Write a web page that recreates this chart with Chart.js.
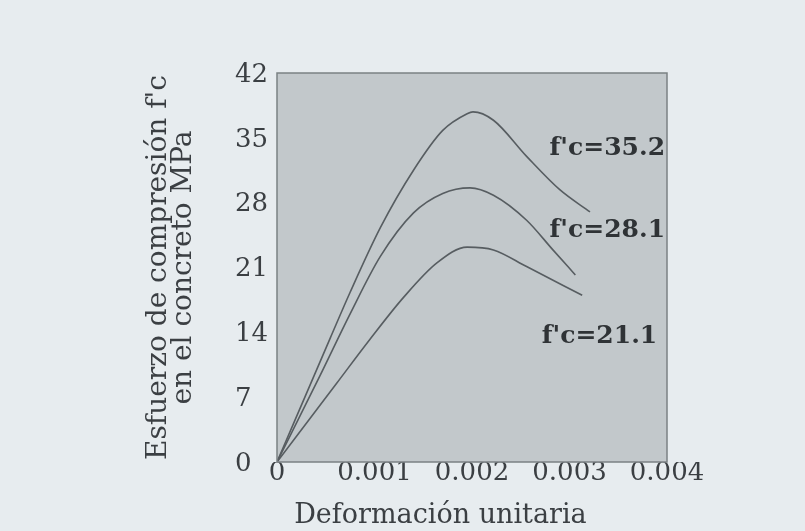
<!DOCTYPE html>
<html>
<head>
<meta charset="utf-8">
<script src="https://cdn.jsdelivr.net/npm/chart.js@4.4.1/dist/chart.umd.min.js"></script>
<style>
  html, body { margin: 0; padding: 0; background: #e7ecef; }
  #wrap { width: 805px; height: 531px; position: relative; }
</style>
</head>
<body>
<div id="wrap"><canvas id="c" width="805" height="531"></canvas></div>
<script>
// ---- data ----
const strain352 = [0, 0.000547, 0.000749, 0.00106, 0.0014, 0.0017, 0.00195, 0.00201, 0.00222, 0.00256, 0.0029, 0.00321];
const stress352 = [0, 13.4, 18.3, 25.3, 31.5, 35.8, 37.6, 37.8, 36.9, 33.0, 29.4, 27.0];

const strain281 = [0, 0.00044, 0.00075, 0.00106, 0.0014, 0.0017, 0.00198, 0.00222, 0.00256, 0.00283, 0.00306];
const stress281 = [0, 9.3, 16.0, 22.2, 26.9, 29.0, 29.6, 28.8, 26.1, 22.9, 20.2];

const strain211 = [0, 0.000612, 0.00095, 0.0013, 0.00164, 0.00195, 0.00222, 0.00256, 0.00313];
const stress211 = [0, 8.5, 13.2, 17.8, 21.5, 23.2, 22.9, 21.1, 18.0];

const seriesNames = ["f'c=35.2", "f'c=28.1", "f'c=21.1"];
const labelX = [0.00398, 0.00398, 0.0039];
const labelY = [33.9, 25.0, 13.5];

const xTickLabels = ['0', '0.001', '0.002', '0.003', '0.004'];
const yTickLabels = ['0', '7', '14', '21', '28', '35', '42'];

const xTitle = 'Deformación unitaria';
const yTitle = ["Esfuerzo de compresión f'c", 'en el concreto MPa'];

// ---- build ----
const toPts = (xs, ys) => xs.map((x, i) => ({ x: x, y: ys[i] }));
const lineColor = '#575d61';
const textColor = '#3b3f43';
const serif = "'DejaVu Serif', serif";

const frame = {
  id: 'frame',
  beforeDatasetsDraw(chart) {
    const { ctx, chartArea: a } = chart;
    ctx.save();
    ctx.fillStyle = '#c2c8cb';
    ctx.fillRect(a.left, a.top, a.right - a.left, a.bottom - a.top);
    ctx.restore();
  },
  afterDatasetsDraw(chart) {
    const { ctx, chartArea: a, scales } = chart;
    ctx.save();
    ctx.strokeStyle = '#7b8184';
    ctx.lineWidth = 1.5;
    ctx.strokeRect(a.left, a.top, a.right - a.left, a.bottom - a.top);
    ctx.fillStyle = '#2f3336';
    ctx.font = "bold 25px 'DejaVu Serif', serif";
    ctx.textAlign = 'right';
    ctx.textBaseline = 'middle';
    seriesNames.forEach((n, i) => {
      ctx.fillText(n, scales.x.getPixelForValue(labelX[i]), scales.y.getPixelForValue(labelY[i]));
    });
    ctx.restore();
  }
};

const ds = (xs, ys, name) => ({
  label: name,
  data: toPts(xs, ys),
  showLine: true,
  borderColor: lineColor,
  borderWidth: 1.6,
  pointRadius: 0,
  fill: false,
  cubicInterpolationMode: 'monotone'
});

new Chart(document.getElementById('c'), {
  type: 'scatter',
  data: {
    datasets: [
      ds(strain352, stress352, seriesNames[0]),
      ds(strain281, stress281, seriesNames[1]),
      ds(strain211, stress211, seriesNames[2])
    ]
  },
  options: {
    responsive: false,
    animation: false,
    devicePixelRatio: 1,
    layout: { padding: { left: 145, top: 73, right: 138, bottom: 0 } },
    plugins: { legend: { display: false }, tooltip: { enabled: false } },
    scales: {
      x: {
        type: 'linear',
        min: 0, max: 0.004,
        afterFit(s) { s.height = 69; },
        grid: { display: false, drawTicks: false },
        border: { display: false },
        ticks: {
          stepSize: 0.001,
          padding: -2,
          color: textColor,
          font: { family: serif, size: 26, lineHeight: 1 },
          maxRotation: 0,
          callback: (v, i) => xTickLabels[i]
        },
        title: {
          display: true,
          text: '  ' + xTitle,
          color: textColor,
          align: 'start',
          font: { family: serif, size: 27, lineHeight: 1.1 },
          padding: { top: 0, bottom: 0 }
        }
      },
      y: {
        type: 'linear',
        min: 0, max: 42,
        afterFit(s) { s.width = 132; },
        grid: { display: false, drawTicks: false },
        border: { display: false },
        ticks: {
          stepSize: 7,
          padding: 9,
          labelOffset: 2,
          color: textColor,
          font: { family: serif, size: 26 },
          callback: (v, i) => { const t = yTickLabels[i]; return t.length < 2 ? t + '\u2007' : t; }
        },
        title: {
          display: true,
          text: yTitle,
          color: textColor,
          font: { family: serif, size: 28, lineHeight: 0.9 },
          padding: { top: 1.4, bottom: 0 }
        }
      }
    }
  },
  plugins: [frame]
});
</script>
</body>
</html>
